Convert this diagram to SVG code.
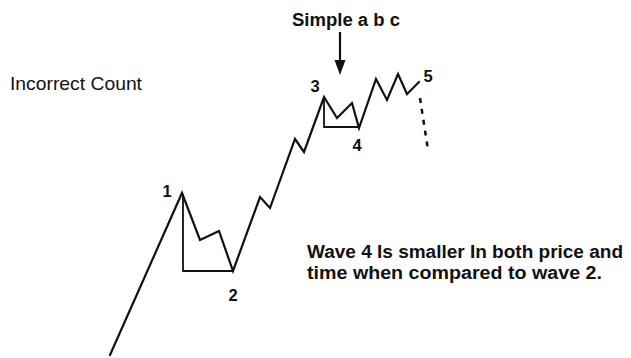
<svg xmlns="http://www.w3.org/2000/svg" width="631" height="358" viewBox="0 0 631 358">
<style>
.ln{fill:none;stroke:#111;stroke-width:2.2;stroke-linejoin:miter;stroke-linecap:round}
.thin{fill:none;stroke:#111;stroke-width:1.8}
.lbl{font-family:"Liberation Sans",Arial,sans-serif;font-weight:bold;font-size:16.5px;fill:#111;text-anchor:middle}
.bold{font-family:"Liberation Sans",Arial,sans-serif;font-weight:bold;font-size:18px;fill:#111}
.reg{font-family:"Liberation Sans",Arial,sans-serif;font-size:19px;fill:#111}
</style>
<rect width="631" height="358" fill="#fff"/>
<g id="connectors">
<polyline id="wave" class="ln" points="110,355 182,193 200,240 219,231 233,271 260,197 270,208 295,139 304,152 324,97 337,118 352,103 359,128 376,79 387,100 398,74 407,94 419,82"/>
<polyline id="wave2-box" class="thin" points="183,194 183,271 233,271"/>
<polyline id="wave4-box" class="thin" points="324,98 324,127 359,127"/>
<line id="wave5-dash" x1="420" y1="98" x2="428" y2="150" stroke="#111" stroke-width="2.5" stroke-dasharray="5,6"/>
<line id="abc-arrow" x1="340" y1="32" x2="340" y2="62" stroke="#111" stroke-width="2.2"/>
<polygon points="334.5,60 345.5,60 340,75" fill="#111"/>
</g>
<g id="label-1"><text class="lbl" x="167" y="196.5">1</text></g>
<g id="label-2"><text class="lbl" x="233" y="300.5">2</text></g>
<g id="label-3"><text class="lbl" x="315" y="91.5">3</text></g>
<g id="label-4"><text class="lbl" x="357" y="150.5">4</text></g>
<g id="label-5"><text class="lbl" x="428" y="81.5">5</text></g>
<g id="title-abc"><text class="bold" x="292" y="26" textLength="108" lengthAdjust="spacingAndGlyphs">Simple a b c</text></g>
<g id="title-count"><text class="reg" x="10" y="90" textLength="132" lengthAdjust="spacingAndGlyphs">Incorrect Count</text></g>
<g id="note">
<text class="bold" x="307" y="258" textLength="316" lengthAdjust="spacingAndGlyphs">Wave 4 Is smaller In both price and</text>
<text class="bold" x="307" y="279" textLength="295" lengthAdjust="spacingAndGlyphs">time when compared to wave 2.</text>
</g>
</svg>
